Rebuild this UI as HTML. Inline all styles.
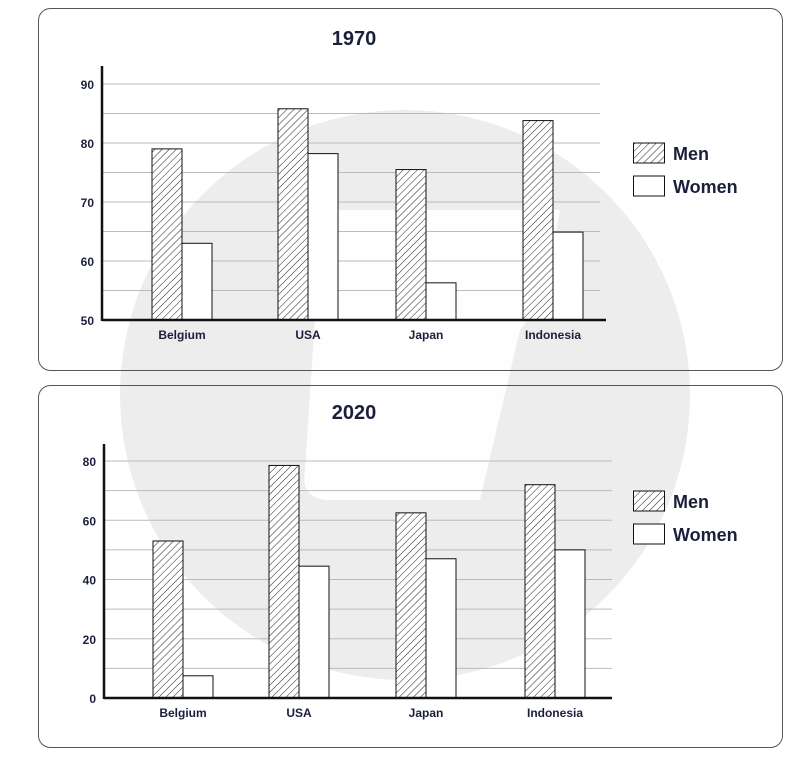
<!DOCTYPE html>
<html><head><meta charset="utf-8"><style>
body{margin:0;background:#fff;width:807px;height:756px;overflow:hidden}
svg text{font-family:"Liberation Sans",sans-serif;font-weight:bold;fill:#1b1f3b}
</style></head><body>
<svg id="svg" width="807" height="756" xmlns="http://www.w3.org/2000/svg">
<defs>
<pattern id="hatch" patternUnits="userSpaceOnUse" width="5" height="5" patternTransform="rotate(45)">
<rect width="5" height="5" fill="#fff"/><line x1="0" y1="0" x2="0" y2="5" stroke="#222" stroke-width="1"/>
</pattern>
</defs>
<g>
<circle cx="405" cy="395" r="285" fill="#ededed"/>
<path d="M330 210 L560 210 Q545 300 520 330 L480 500 L330 500 Q300 500 305 470 L320 240 Z" fill="#fff" opacity="0.9"/>
</g>
<rect x="38.5" y="8.5" width="744" height="362" rx="12" fill="none" stroke="#555" stroke-width="1"/>
<rect x="38.5" y="385.5" width="744" height="362" rx="12" fill="none" stroke="#555" stroke-width="1"/>
<g id="c1"></g><g id="c2"></g>
</svg>
<script>
const categories=["Belgium","USA","Japan","Indonesia"];
const men1970=[79,85.8,75.5,83.8];
const women1970=[63,78.2,56.3,64.9];
const ticks1970=[50,60,70,80,90];
const men2020=[53,78.5,62.5,72];
const women2020=[7.5,44.5,47,50];
const ticks2020=[0,20,40,60,80];
const NS="http://www.w3.org/2000/svg";
function mk(tag,attrs,parent,txt){const e=document.createElementNS(NS,tag);for(const k in attrs)e.setAttribute(k,attrs[k]);if(txt!==undefined)e.textContent=txt;parent.appendChild(e);return e;}
function draw(g,cfg){
  const y=v=>cfg.base-(v-cfg.min)/(cfg.max-cfg.min)*(cfg.base-cfg.top);
  const t=mk('text',{x:354,y:cfg.titleY,'font-size':20,'text-anchor':'middle'},g,cfg.title);
  
  
  const step=(cfg.ticks[1]-cfg.ticks[0])/2;
  for(let v=cfg.min+step;v<=cfg.max+0.01;v+=step){
    const l=mk('line',{x1:cfg.ax,x2:cfg.gridEnd,y1:y(v),y2:y(v),stroke:'#bbb','stroke-width':1},g);
    
    
  }
  cfg.ticks.forEach(v=>{
    const tl=mk('text',{x:cfg.ax-8,y:y(v)+5,'font-size':12,'text-anchor':'end'},g,v);
    
    
  });
  categories.forEach((c,i)=>{
    const x0=cfg.barX[i];
    const m=mk('rect',{x:x0,y:y(cfg.men[i]),width:30,height:cfg.base-y(cfg.men[i]),fill:'url(#hatch)',stroke:'#111','stroke-width':1},g);
    
    
    const w=mk('rect',{x:x0+30,y:y(cfg.women[i]),width:30,height:cfg.base-y(cfg.women[i]),fill:'#fff',stroke:'#111','stroke-width':1},g);
    
    
    const cl=mk('text',{x:x0+30,y:cfg.base+19,'font-size':12,'text-anchor':'middle'},g,c);
    
    
  });
  const ya=mk('line',{x1:cfg.ax,x2:cfg.ax,y1:cfg.axTop,y2:cfg.base+1,stroke:'#111','stroke-width':2.5},g);
  
  
  const xa=mk('line',{x1:cfg.ax,x2:cfg.axEnd,y1:cfg.base,y2:cfg.base,stroke:'#111','stroke-width':2.5},g);
  
  
  const lm=mk('rect',{x:633.5,y:cfg.legY,width:31,height:20,fill:'url(#hatch)',stroke:'#111'},g);
  
  
  const lmt=mk('text',{x:673,y:cfg.legY+17,'font-size':18},g,'Men');
  
  
  const lw=mk('rect',{x:633.5,y:cfg.legY+33,width:31,height:20,fill:'#fff',stroke:'#111'},g);
  
  
  const lwt=mk('text',{x:673,y:cfg.legY+50,'font-size':18},g,'Women');
  
  
}
draw(document.getElementById('c1'),{title:'1970',titleY:45,min:50,max:90,base:320,top:84,ax:102,axTop:66,gridEnd:600,axEnd:606,
  ticks:ticks1970,men:men1970,women:women1970,barX:[152,278,396,523],legY:143});
draw(document.getElementById('c2'),{title:'2020',titleY:419,min:0,max:80,base:698,top:461,ax:104,axTop:444,gridEnd:612,axEnd:612,
  ticks:ticks2020,men:men2020,women:women2020,barX:[153,269,396,525],legY:491});
</script>
</body></html>
